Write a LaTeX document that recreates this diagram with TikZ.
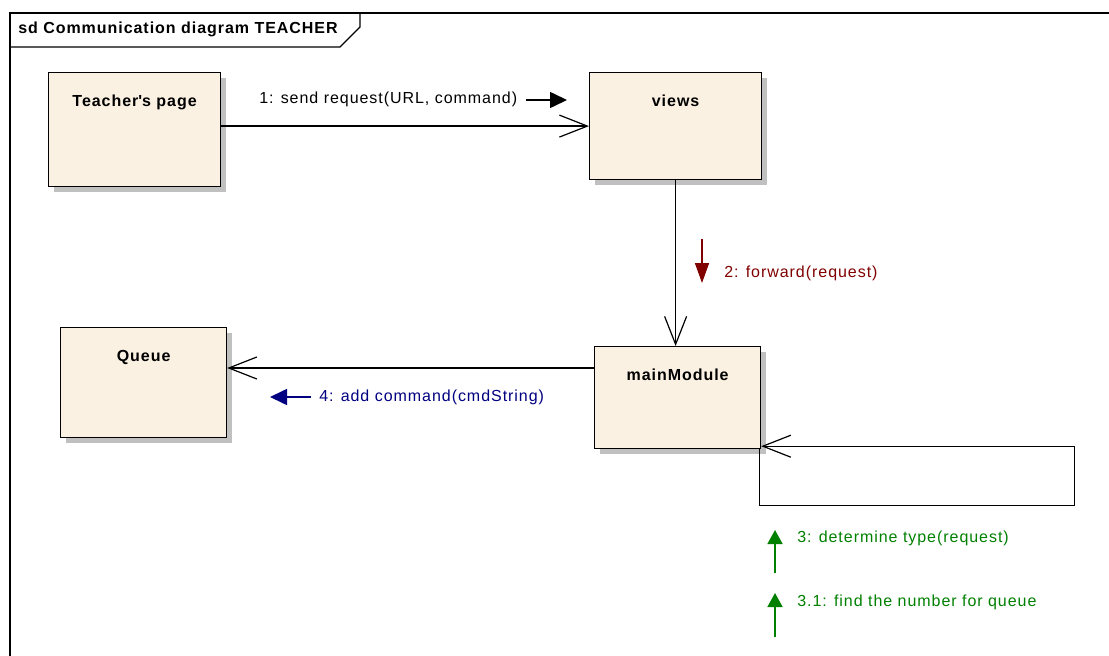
\documentclass[tikz,border=0pt]{standalone}
\usepackage{fontspec}
\setmainfont{Liberation Sans}[LetterSpace=6]
\usetikzlibrary{arrows.meta,calc,shadows}
\definecolor{boxfill}{RGB}{251,241,227}
\definecolor{shadowgray}{RGB}{192,192,192}
\definecolor{msgred}{RGB}{128,0,0}
\definecolor{msgblue}{RGB}{0,0,128}
\definecolor{msggreen}{RGB}{0,128,0}
\begin{document}
\begin{tikzpicture}[x=0.75pt,y=-0.75pt,
  every node/.style={font=\fontsize{12}{14}\selectfont},
  umlbox/.style={draw, line width=0.9pt, fill=boxfill, inner sep=0pt,
    anchor=north west, text height=25.5pt, font=\fontsize{12}{14}\selectfont\bfseries,
    drop shadow={shadow xshift=3.75pt, shadow yshift=-3.75pt, fill=shadowgray, opacity=1}},
  link/.style={line width=0.9pt, -{Straight Barb[length=21pt, width=16.5pt, line width=0.9pt]}},
  seqarrow/.style={line width=1.2pt, -{Triangle[length=12.75pt, width=12pt]}},
  msglabel/.style={anchor=west, inner sep=0pt}]
\useasboundingbox (0,0) rectangle (1109,656);

% frame and its name tab
\draw[line width=1pt] (1109,13) -- (10,13) -- (10,656);
\draw[line width=0.8pt] (10,47) -- (340,47) -- (360,27) -- (360,13);
\node[msglabel, font=\fontsize{12}{14}\selectfont\bfseries] (title) at (18,29) {sd Communication diagram TEACHER};

% lifelines
\node[umlbox, minimum width=129pt, text depth=60pt] (teacher) at (48,72) {Teacher\textquotesingle s page};
\node[umlbox, minimum width=129pt, text depth=54.75pt] (views) at (589,72) {views};
\node[umlbox, minimum width=124.5pt, text depth=51pt] (main) at (594,346) {mainModule};
\node[umlbox, minimum width=124.5pt, text depth=57pt] (queue) at (60,327) {Queue};

% links
\coordinate (row4) at (0,368);
\draw[link] (teacher.east |- views.west) -- (views.west);
\draw[link] (views.south) -- (views.south |- main.north);
\draw[link] (main.west |- row4) -- (queue.east |- row4);
\draw[link] ($(main.south east)+(-2,0)$) -- ++(0,56) -- ++(315,0) |- ($(main.south east)+(0,-3)$);

% message 1
\node[msglabel] (m1) at (259,99) {1: send request(URL, command)};
\coordinate (m1a) at (526,100);
\coordinate (m1b) at (567,100);
\draw[seqarrow] (m1a) -- (m1b);

% message 2
\node[msglabel, text=msgred] (m2) at (724,273) {2: forward(request)};
\coordinate (m2a) at (702,239);
\coordinate (m2b) at (702,283);
\draw[seqarrow, msgred, -{Triangle[length=15pt, width=10.5pt]}] (m2a) -- (m2b);

% message 4
\node[msglabel, text=msgblue] (m4) at (319,397) {4: add command(cmdString)};
\coordinate (m4a) at (311,397);
\coordinate (m4b) at (270,397);
\draw[seqarrow, msgblue] (m4a) -- (m4b);

% messages 3 and 3.1
\node[msglabel, text=msggreen] (m3) at (797,538) {3: determine type(request)};
\coordinate (m3a) at (775,573);
\coordinate (m3b) at (775,530);
\draw[seqarrow, msggreen, -{Triangle[length=10.5pt, width=11.25pt]}] (m3a) -- (m3b);

\node[msglabel, text=msggreen] (m31) at (797,602) {3.1: find the number for queue};
\coordinate (m31a) at (775,637);
\coordinate (m31b) at (775,593);
\draw[seqarrow, msggreen, -{Triangle[length=10.5pt, width=11.25pt]}] (m31a) -- (m31b);
\end{tikzpicture}
\end{document}
